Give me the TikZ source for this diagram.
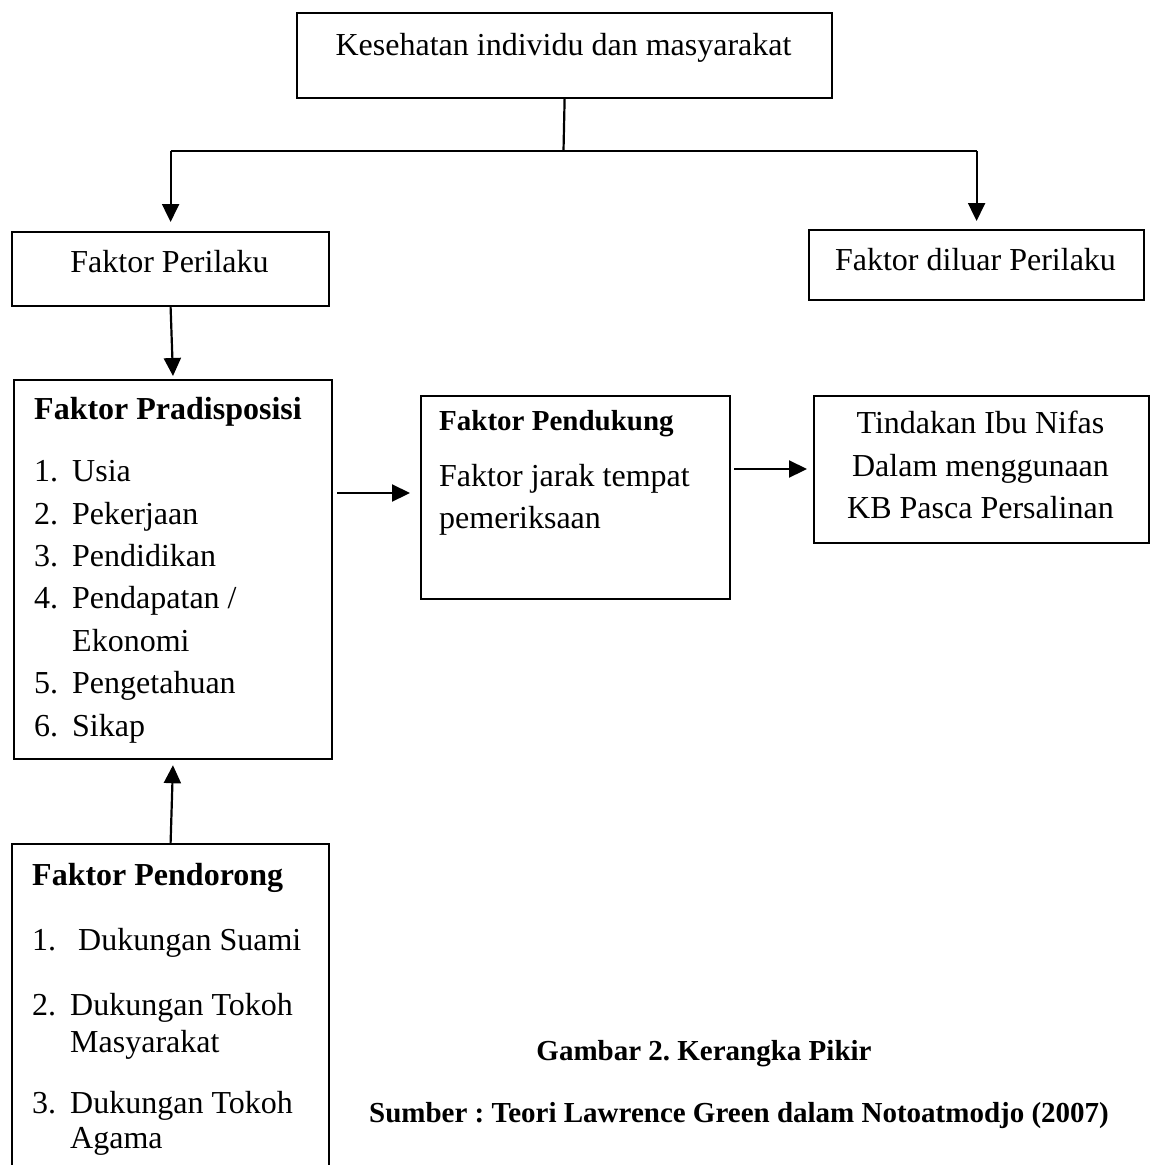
\documentclass[tikz,border=0pt]{standalone}
\usepackage{fontspec}
\setmainfont{Liberation Serif}
\usetikzlibrary{arrows.meta}
\newcommand\fbig{\fontsize{32}{40}\selectfont}
\newcommand\fmid{\fontsize{29}{36}\selectfont}
\frenchspacing
\begin{document}
\begin{tikzpicture}[x=1pt,y=-1pt,
  box/.style={draw, line width=2.2pt, inner sep=0pt, anchor=north west},
  txt/.style={inner sep=0pt, font=\fbig},
  ttl/.style={inner sep=0pt, font=\fbig\bfseries, anchor=base west},
  arr/.style={-{Triangle[length=18pt,width=17pt]}, line width=2.2pt},
  ln/.style={line width=2.2pt}]
\useasboundingbox (0,0) rectangle (1152,1165);
\fill[white] (0,0) rectangle (1152,1165);
\clip (0,0) rectangle (1152,1165);

% boxes
\node[box, minimum width=535pt, minimum height=85pt] (top) at (296,12) {};
\node[box, minimum width=317pt, minimum height=74pt] (perilaku) at (11,231) {};
\node[box, minimum width=335pt, minimum height=70pt] (diluar) at (808,229) {};
\node[box, minimum width=318pt, minimum height=379pt] (prad) at (13,379) {};
\node[box, minimum width=309pt, minimum height=203pt] (pend) at (420,395) {};
\node[box, minimum width=335pt, minimum height=147pt] (tind) at (813,395) {};
\node[box, minimum width=317pt, minimum height=360pt] (dorong) at (11,843) {};

% texts
\node[txt, anchor=base] (ttop) at (563.5,55) {Kesehatan individu dan masyarakat};
\node[txt, anchor=base] (tperilaku) at (169.5,272) {Faktor Perilaku};
\node[txt, anchor=base] (tdiluar) at (975.5,270) {Faktor diluar Perilaku};

\node[ttl] (tprad) at (34,419) {Faktor Pradisposisi};
\node[txt, anchor=base west] (p1n) at (34,481) {1.};
\node[txt, anchor=base west] (p1) at (72,481) {Usia};
\node[txt, anchor=base west] (p2n) at (34,524) {2.};
\node[txt, anchor=base west] (p2) at (72,524) {Pekerjaan};
\node[txt, anchor=base west] (p3n) at (34,566) {3.};
\node[txt, anchor=base west] (p3) at (72,566) {Pendidikan};
\node[txt, anchor=base west] (p4n) at (34,608) {4.};
\node[txt, anchor=base west] (p4) at (72,608) {Pendapatan /};
\node[txt, anchor=base west] (p4b) at (72,651) {Ekonomi};
\node[txt, anchor=base west] (p5n) at (34,693) {5.};
\node[txt, anchor=base west] (p5) at (72,693) {Pengetahuan};
\node[txt, anchor=base west] (p6n) at (34,736) {6.};
\node[txt, anchor=base west] (p6) at (72,736) {Sikap};

\node[inner sep=0pt, font=\fmid\bfseries, anchor=base west] (tpend) at (439,430) {Faktor Pendukung};
\node[txt, anchor=base west] (pd1) at (439,486) {Faktor jarak tempat};
\node[txt, anchor=base west] (pd2) at (439,528) {pemeriksaan};

\node[txt, anchor=base] (t1) at (980.5,433) {Tindakan Ibu Nifas};
\node[txt, anchor=base] (t2) at (980.5,476) {Dalam menggunaan};
\node[txt, anchor=base] (t3) at (980.5,518) {KB Pasca Persalinan};

\node[ttl] (tdorong) at (32,885) {Faktor Pendorong};
\node[txt, anchor=base west] (d1n) at (32,950) {1.};
\node[txt, anchor=base west] (d1) at (78,950) {Dukungan Suami};
\node[txt, anchor=base west] (d2n) at (32,1015) {2.};
\node[txt, anchor=base west] (d2) at (70,1015) {Dukungan Tokoh};
\node[txt, anchor=base west] (d2b) at (70,1052) {Masyarakat};
\node[txt, anchor=base west] (d3n) at (32,1113) {3.};
\node[txt, anchor=base west] (d3) at (70,1113) {Dukungan Tokoh};
\node[txt, anchor=base west] (d3b) at (70,1148) {Agama};

\node[inner sep=0pt, font=\fmid\bfseries, anchor=base] (cap1) at (704,1060) {Gambar 2. Kerangka Pikir};
\node[inner sep=0pt, font=\fmid\bfseries, anchor=base] (cap2) at (739,1122) {Sumber : Teori Lawrence Green dalam Notoatmodjo (2007)};

% connectors
\coordinate (split) at (563.5,151);
\coordinate (ya) at (0,493);
\coordinate (yb) at (0,469);
\draw[ln] (top.south) -- (split);
\draw[ln] (perilaku.north |- split) -- (diluar.north |- split);
\draw[arr, shorten >=9pt] (perilaku.north |- split) -- (perilaku.north);
\draw[arr, shorten >=8pt] (diluar.north |- split) -- (diluar.north);
\draw[arr, shorten >=3pt] (perilaku.south) -- (prad.north);
\draw[arr, shorten <=4pt, shorten >=10pt] (prad.east |- ya) -- (pend.west |- ya);
\draw[arr, shorten <=3pt, shorten >=6pt] (pend.east |- yb) -- (tind.west |- yb);
\draw[arr, shorten >=5pt] (dorong.north) -- (prad.south);
\end{tikzpicture}
\end{document}
